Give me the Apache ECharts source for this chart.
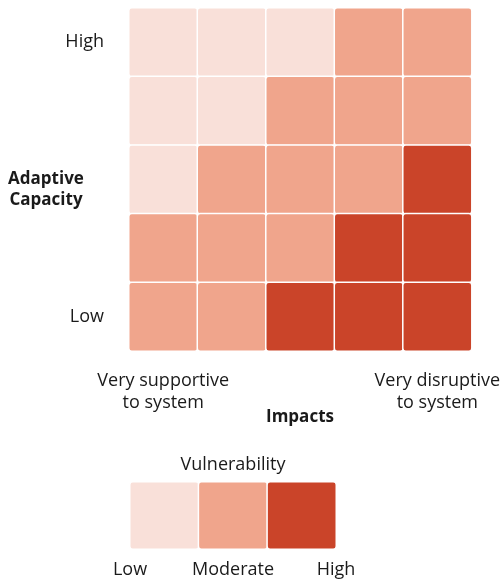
<!DOCTYPE html>
<html>
<head>
<meta charset="utf-8">
<script src="https://cdn.jsdelivr.net/npm/echarts@6/dist/echarts.min.js"></script>
<style>
  html, body { margin: 0; padding: 0; background: #fff; }
  #chart { width: 503px; height: 579px; }
</style>
</head>
<body>
<div id="chart"></div>
<script>
// impacts (columns, left -> right)
const impactLabels = ['Very supportive\nto system', '', '', '', 'Very disruptive\nto system']
// adaptive capacity (rows, top -> bottom)
const capacityLabels = ['High', '', '', '', 'Low']
// vulnerability level: 1 low, 2 moderate, 3 high
const vulnerability = [
  [1, 1, 1, 2, 2],
  [1, 1, 2, 2, 2],
  [1, 2, 2, 2, 3],
  [2, 2, 2, 3, 3],
  [2, 2, 3, 3, 3],
]
const legendLevels = [1, 2, 3]
const legendLabels = ['Low', 'Moderate', 'High']

const colors = ['#f9e0d9', '#f0a58c', '#ca4429']
const font = "'Open Sans', 'Noto Sans', sans-serif"
const textColor = '#1a1a1a'
const fontSize = 18

let cells = []
vulnerability.forEach((row, r) => {
  row.forEach((v, c) => {
    cells.push([c, r, v])
  })
})
let legendCells = legendLevels.map((v, i) => [i, 0, v])

const myChart = echarts.init(document.getElementById('chart'))
const option = {
  animation: false,
  textStyle: { fontFamily: font },
  grid: [
    { left: 129, top: 8, width: 343, height: 343 },
    { left: 130, top: 482, width: 206, height: 67 },
  ],
  visualMap: {
    show: false,
    type: 'piecewise',
    dimension: 2,
    pieces: [
      { value: 1, color: colors[0] },
      { value: 2, color: colors[1] },
      { value: 3, color: colors[2] },
    ],
  },
  xAxis: [
    {
      type: 'category',
      gridIndex: 0,
      data: impactLabels,
      axisLine: { show: false },
      axisTick: { show: false },
      splitLine: { show: false },
      axisLabel: {
        interval: 0,
        margin: 19,
        fontSize: fontSize,
        lineHeight: 22,
        color: textColor,
        fontFamily: font,
      },
    },
    {
      type: 'category',
      gridIndex: 1,
      data: legendLabels,
      show: false,
    },
    {
      type: 'value',
      gridIndex: 1,
      min: 0,
      max: 2,
      interval: 1,
      position: 'bottom',
      axisLine: { show: false },
      axisTick: { show: false },
      splitLine: { show: false },
      axisLabel: {
        margin: 12,
        fontSize: fontSize,
        color: textColor,
        fontFamily: font,
        formatter: (v) => legendLabels[v] || '',
      },
    },
  ],
  yAxis: [
    {
      type: 'category',
      gridIndex: 0,
      inverse: true,
      data: capacityLabels,
      axisLine: { show: false },
      axisTick: { show: false },
      splitLine: { show: false },
      axisLabel: {
        interval: 0,
        margin: 25,
        fontSize: fontSize,
        color: textColor,
        fontFamily: font,
      },
    },
    {
      type: 'category',
      gridIndex: 1,
      data: ['v'],
      show: false,
    },
  ],
  graphic: [
    {
      type: 'text',
      x: 46,
      y: 169,
      style: {
        text: 'Adaptive\nCapacity',
        align: 'center',
        verticalAlign: 'top',
        fontSize: fontSize - 1,
        lineHeight: 21,
        fontWeight: 'bold',
        fill: textColor,
        fontFamily: font,
      },
    },
    {
      type: 'text',
      x: 300,
      y: 407,
      style: {
        text: 'Impacts',
        align: 'center',
        verticalAlign: 'top',
        fontSize: fontSize - 1,
        lineHeight: 20,
        fontWeight: 'bold',
        fill: textColor,
        fontFamily: font,
      },
    },
    {
      type: 'text',
      x: 233,
      y: 454,
      style: {
        text: 'Vulnerability',
        align: 'center',
        verticalAlign: 'top',
        fontSize: fontSize,
        lineHeight: 22,
        fill: textColor,
        fontFamily: font,
      },
    },
  ],
  series: [
    {
      type: 'heatmap',
      xAxisIndex: 0,
      yAxisIndex: 0,
      data: cells,
      itemStyle: { borderColor: '#fff', borderWidth: 1.5, borderRadius: 3 },
      emphasis: { disabled: true },
    },
    {
      type: 'heatmap',
      xAxisIndex: 1,
      yAxisIndex: 1,
      data: legendCells,
      itemStyle: { borderColor: '#fff', borderWidth: 1.5, borderRadius: 3 },
      emphasis: { disabled: true },
    },
  ],
}
myChart.setOption(option)
</script>
</body>
</html>
